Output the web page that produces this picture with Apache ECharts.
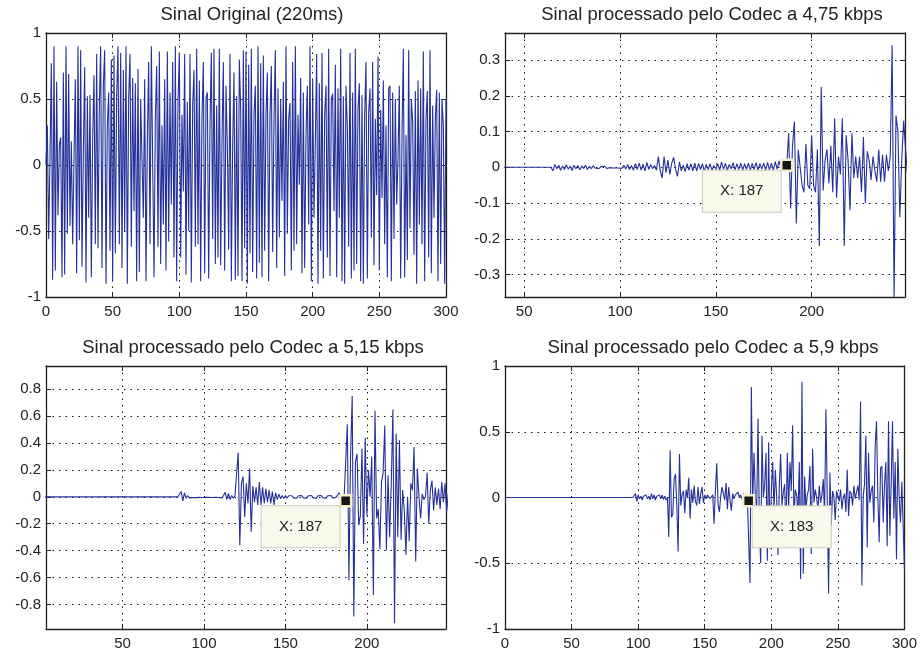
<!DOCTYPE html>
<html>
<head>
<meta charset="utf-8">
<script src="https://cdn.jsdelivr.net/npm/echarts@6/dist/echarts.min.js"></script>
<style>
  html, body { margin: 0; background: #fff; }
  #main { width: 920px; height: 653px; }
</style>
</head>
<body>
<div id="main"></div>
<script>
// titulos dos quatro graficos
const titulos = [
  'Sinal Original (220ms)',
  'Sinal processado pelo Codec a 4,75 kbps',
  'Sinal processado pelo Codec a 5,15 kbps',
  'Sinal processado pelo Codec a 5,9 kbps'
];

// sinal original, amostras 0..300
const sinalOriginal = [
  0.00, 0.30, -0.56, 0.05, 0.77, -0.87, 0.90, -0.80, 0.63, -0.38, 0.15, 0.21, -0.85, 0.70, -0.83, 0.90, -0.52, 0.69, -0.46, 0.18,
  -0.60, 0.05, 0.65, -0.82, 0.90, -0.57, 0.87, -0.77, 0.10, 0.74, -0.89, 0.52, -0.40, 0.53, -0.85, 0.20, 0.68, -0.60, 0.84, -0.63,
  0.45, 0.90, -0.78, 0.60, 0.87, -0.90, 0.30, 0.55, -0.65, 0.80, -0.88, 0.83, -0.67, 0.52, 0.90, -0.60, 0.85, -0.78, 0.72, -0.50,
  0.90, -0.90, 0.50, 0.84, -0.62, 0.66, -0.35, 0.62, -0.88, 0.73, -0.81, 0.50, 0.50, -0.40, 0.65, -0.88, 0.18, 0.78, -0.60, 0.90,
  0.90, -0.85, 0.35, 0.75, -0.62, 0.86, -0.75, 0.30, -0.45, 0.65, -0.80, 0.86, -0.58, 0.55, -0.30, 0.78, -0.70, 0.90, -0.88, 0.47,
  0.85, -0.70, 0.38, -0.20, 0.84, -0.83, 0.48, -0.50, 0.84, -0.89, 0.45, 0.72, -0.62, 0.88, -0.60, 0.64, -0.88, 0.35, 0.78, -0.82,
  0.51, 0.55, -0.86, 0.30, 0.85, -0.56, 0.88, -0.75, 0.45, -0.70, 0.88, -0.76, 0.18, 0.78, -0.80, 0.60, 0.15, -0.64, 0.84, -0.88,
  0.15, 0.70, -0.87, 0.52, -0.84, 0.80, 0.43, -0.88, 0.87, -0.63, 0.86, -0.90, 0.76, -0.67, 0.88, -0.81, 0.38, 0.60, -0.86, 0.90,
  -0.74, 0.77, -0.85, 0.83, -0.65, 0.38, 0.70, -0.88, 0.38, 0.75, -0.66, 0.35, 0.87, -0.78, 0.58, -0.55, 0.50, -0.27, 0.63, -0.84,
  0.90, -0.52, 0.35, 0.47, -0.80, 0.78, -0.65, 0.90, -0.60, 0.38, -0.15, 0.66, -0.82, 0.55, -0.78, 0.23, 0.60, -0.45, 0.90, -0.88,
  0.65, -0.40, 0.18, 0.84, -0.90, 0.62, -0.65, 0.85, -0.86, 0.38, 0.60, -0.70, 0.88, -0.84, 0.50, 0.54, -0.35, 0.76, -0.85, 0.58,
  -0.40, 0.88, -0.88, 0.52, -0.90, 0.60, 0.30, -0.62, 0.85, -0.86, 0.55, -0.80, 0.88, -0.75, 0.43, 0.62, -0.88, 0.53, -0.90, 0.38,
  0.78, -0.86, 0.40, 0.58, -0.55, 0.78, -0.76, 0.35, -0.23, 0.82, -0.80, 0.42, -0.25, 0.64, -0.60, 0.30, -0.85, 0.58, 0.60, -0.88,
  0.55, -0.56, 0.50, -0.30, 0.05, 0.60, -0.86, 0.22, 0.88, -0.85, 0.23, -0.72, 0.87, -0.48, 0.50, 0.33, -0.68, 0.56, -0.90, 0.64,
  -0.45, 0.58, -0.60, 0.86, -0.88, 0.35, 0.56, -0.70, 0.87, -0.82, 0.45, -0.40, 0.35, 0.57, -0.88, 0.55, -0.75, 0.50, 0.30, -0.90,
  0.50
];

// codec 4,75 kbps, amostras 0..250
const sinal475 = [
  0,0,0,0,0,0,0,0,0,0, 0,0,0,0,0,0,0,0,0,0,
  0,0,0,0,0,0,0,0,0,0, 0,0,0,0,0,0,0,0,0,0,
  0,0,0,0,0,0,0,0,0,0, 0,0,0,0,0,0,0,0,0,0,
  0,0,0,0,0,
  -0.01, 0.008, -0.004, 0.006, -0.008, 0.004, -0.006, 0.007, -0.005, 0.003,
  -0.009, 0.006, -0.004, 0.005, -0.007, 0.004, -0.003, 0.006, -0.006, 0.003,
  -0.004, 0.004, -0.002, 0.003, -0.004, 0.002, -0.002, 0.003, -0.003, 0.002,
  -0.001, 0.002, -0.002, 0.001, -0.002, 0.003, -0.003, 0.006, -0.005, 0.008,
  -0.006, 0.005, -0.008, 0.01, -0.006, 0.012, -0.008, 0.009, -0.01, 0.014,
  -0.006, 0.008, -0.004, 0.005, -0.008, 0.03, -0.01, -0.03, 0.03, -0.015,
  0.02, -0.02, 0.012, 0.028, -0.005, -0.025, 0.015, -0.01, 0.006, -0.012,
  0.01, -0.008, 0.01, -0.01, 0.012, -0.01, 0.011, -0.006, 0.01, -0.012,
  0.008, -0.006, 0.01, -0.008, 0.005, -0.005, 0.01, -0.008, 0.015, -0.006,
  0.012, -0.01, 0.008, -0.004, 0.013, -0.008, 0.01, -0.006, 0.012, -0.008,
  0.01, -0.006, 0.012, -0.007, 0.011, -0.006, 0.013, -0.008, 0.01, -0.005,
  0.012, -0.008, 0.014, -0.007, 0.012, -0.008, 0.016, -0.005, 0.018, -0.004,
  0.012, -0.002, 0.006, 0.095, -0.115, 0.06, 0.128, -0.157, 0.05, 0.055,
  -0.05, -0.07, 0.065, -0.05, -0.06, 0.09, -0.05, -0.07, 0.05, -0.22,
  0.225, -0.065, 0.02, 0.05, -0.045, 0.06, -0.07, 0.137, -0.085, 0.03,
  -0.02, 0.137, -0.22, 0.09, 0.02, -0.12, 0.095, -0.03, 0.03, -0.03,
  0.03, -0.07, 0.085, -0.1, 0.045, 0.02, -0.035, 0.03, -0.01, -0.04,
  0.05, -0.04, 0.035, -0.04, 0.035, -0.01, 0.03, 0.342, -0.37, 0.145,
  0.1, -0.14, 0.02, 0.13, 0.05, -0.02
];

// codec 5,15 kbps, amostras 0..250
const sinal515 = [
  0,0,0,0,0,0,0,0,0,0, 0,0,0,0,0,0,0,0,0,0,
  0,0,0,0,0,0,0,0,0,0, 0,0,0,0,0,0,0,0,0,0,
  0,0,0,0,0,0,0,0,0,0, 0,0,0,0,0,0,0,0,0,0,
  0,0,0,0,0,0,0,0,0,0, 0,0,0,0,0,0,0,0,0,0,
  0,0,0,0,0,
  0.005, 0.04, -0.03, 0.03, -0.01, 0.01, -0.008, 0.006, -0.006, 0.004,
  -0.006, 0.006, -0.004, 0.004, -0.005, 0.003, -0.004, 0.005, -0.003, 0.004,
  -0.005, 0.003, -0.004, 0.004, -0.005, 0.006, -0.008, 0.01, 0.035, -0.02,
  0.025, -0.02, 0.01, -0.01, 0.005, 0.0, 0.33, -0.36, 0.10, 0.15,
  -0.15, 0.10, -0.05, 0.21, -0.26, 0.08, -0.04, 0.07, -0.06, 0.11,
  -0.06, 0.07, -0.05, 0.06, -0.04, 0.05, -0.05, 0.04, -0.06, 0.03,
  -0.02, 0.02, -0.015, 0.01, -0.012, 0.01, -0.01, 0.008, -0.006, 0.008,
  -0.008, 0.006, -0.01, 0.008, -0.006, 0.01, -0.008, 0.006, -0.01, 0.008,
  -0.006, 0.01, -0.008, 0.006, -0.01, 0.008, -0.006, 0.01, -0.008, 0.006,
  -0.01, 0.008, -0.006, 0.01, -0.008, 0.006, -0.004, 0.01, 0.03, 0.0,
  -0.01, -0.02, -0.03, 0.54, -0.62, 0.30, 0.75, -0.89, 0.26, 0.32,
  -0.21, -0.14, 0.36, -0.35, 0.44, -0.14, 0.20, 0.00, 0.30, -0.73,
  0.64, -0.16, -0.09, -0.39, 0.11, 0.18, 0.53, -0.40, 0.16, -0.30,
  0.10, 0.65, -0.94, 0.47, -0.30, 0.42, -0.32, 0.05, -0.10, -0.43,
  0.00, -0.33, 0.10, 0.05, 0.37, -0.48, 0.21, 0.00, -0.16, 0.02,
  -0.02, 0.00, 0.18, -0.20, 0.05, 0.12, -0.10, 0.07, -0.06, 0.06,
  -0.09, 0.11, -0.04, 0.10, -0.11, 0.02
];

// codec 5,9 kbps, amostras 0..300
const sinal59 = [
  0,0,0,0,0,0,0,0,0,0, 0,0,0,0,0,0,0,0,0,0,
  0,0,0,0,0,0,0,0,0,0, 0,0,0,0,0,0,0,0,0,0,
  0,0,0,0,0,0,0,0,0,0, 0,0,0,0,0,0,0,0,0,0,
  0,0,0,0,0,0,0,0,0,0, 0,0,0,0,0,0,0,0,0,0,
  0,0,0,0,0,0,0,0,0,0, 0,0,0,0,0,0,0,0,
  0.03, -0.03,
  0.02, -0.01, 0.01, -0.02, 0.01, 0.00, 0.02, -0.01, 0.01, -0.02,
  0.03, -0.01, 0.02, -0.02, 0.01, 0.00, 0.02, -0.01, 0.02, -0.015,
  0.01, -0.02, 0.00, -0.30, 0.36, -0.15, -0.13, 0.14, 0.18, -0.05,
  -0.41, 0.33, -0.06, 0.02, 0.05, -0.12, 0.06, 0.00, 0.15, -0.16,
  0.06, -0.04, 0.09, -0.03, -0.06, 0.08, -0.05, 0.03, 0.08, -0.04,
  0.02, -0.01, 0.02, 0.01, -0.01, 0.00, 0.02, -0.20, 0.05, 0.26,
  -0.05, -0.11, 0.01, 0.08, 0.03, -0.02, 0.11, -0.09, 0.08, -0.02,
  -0.10, 0.03, -0.01, 0.02, 0.01, 0.04, 0.00, 0.02, -0.01, 0.03,
  -0.02, 0.01, -0.01, -0.025, -0.65, 0.84, -0.04, 0.34, 0.00, -0.10,
  0.60, -0.20, -0.50, 0.47, 0.00, 0.10, 0.34, -0.48, 0.42, -0.39,
  0.05, 0.27, -0.10, 0.21, 0.01, -0.44, 0.10, 0.33, -0.06, 0.04,
  0.10, -0.29, 0.34, -0.09, 0.27, 0.05, 0.55, -0.15, 0.06, 0.02,
  -0.14, 0.27, -0.62, 0.88, -0.58, 0.16, -0.09, 0.02, 0.06, 0.24,
  -0.43, 0.37, -0.04, 0.06, 0.00, -0.09, 0.09, -0.04, 0.02, 0.14,
  -0.14, 0.67, 0.00, -0.73, 0.19, -0.21, 0.05, 0.01, -0.17, 0.05,
  0.04, -0.03, 0.06, -0.09, 0.00, 0.03, -0.11, 0.21, -0.14, 0.05,
  0.03, -0.06, 0.09, -0.01, 0.04, 0.09, -0.02, 0.73, -0.67, 0.01,
  0.10, 0.47, -0.38, 0.34, -0.04, 0.05, 0.09, -0.19, 0.39, 0.58,
  0.00, -0.34, 0.22, 0.24, -0.19, 0.10, 0.27, -0.37, 0.58, -0.29,
  0.10, 0.58, -0.16, 0.27, -0.47, 0.37, 0.00, -0.19, 0.12, 0.13,
  -0.55
];

// eixos
const xTicks1 = [0, 50, 100, 150, 200, 250, 300];
const yTicks1 = [-1, -0.5, 0, 0.5, 1];
const xTicks2 = [50, 100, 150, 200];
const yTicks2 = [-0.3, -0.2, -0.1, 0, 0.1, 0.2, 0.3];
const xTicks3 = [50, 100, 150, 200];
const yTicks3 = [-0.8, -0.6, -0.4, -0.2, 0, 0.2, 0.4, 0.6, 0.8];

// data tips (X: ...)
const tipX = [null, 187, 187, 183];

const fonte = "'Liberation Sans', Arial, Helvetica, sans-serif";
const corEixo = '#222';
const corLinha = '#24319a';

const paineis = [
  { dados: sinalOriginal, x: [0, 300], y: [-1, 1], xt: xTicks1, yt: yTicks1,
    grid: { left: 46, top: 33, width: 400, height: 264 }, tit: [252, 5] },
  { dados: sinal475, x: [40, 248.7], y: [-0.363, 0.376], xt: xTicks2, yt: yTicks2,
    grid: { left: 505, top: 33, width: 400, height: 264 }, tit: [712, 5], dx: -45 },
  { dados: sinal515, x: [3, 248.6], y: [-0.983, 0.973], xt: xTicks3, yt: yTicks3,
    grid: { left: 46, top: 366, width: 400, height: 263 }, tit: [253, 338], dx: -45 },
  { dados: sinal59, x: [0, 300], y: [-1, 1], xt: xTicks1, yt: yTicks1,
    grid: { left: 505, top: 366, width: 400, height: 263 }, tit: [713, 338], dx: 43 }
];

function rotulo(v) {
  return String(+(+v).toFixed(2));
}

function eixo(tipo, idx, lim, ticks, pos, principal) {
  return {
    type: 'value',
    gridIndex: idx,
    position: pos,
    min: lim[0],
    max: lim[1],
    axisLine: { show: true, onZero: false, lineStyle: { color: corEixo, width: 1.3 } },
    axisTick: { show: true, inside: true, length: 5, customValues: ticks,
      lineStyle: { color: corEixo, width: 1 } },
    axisLabel: {
      show: principal, customValues: ticks, formatter: rotulo,
      fontFamily: fonte, fontSize: 15, color: corEixo,
      margin: tipo === 'x' ? 7 : 5,
      showMinLabel: true, showMaxLabel: true
    },
    splitLine: { show: principal, lineStyle: { color: '#111', width: 1, type: [1.5, 5] } }
  };
}

const xAxis = [], yAxis = [], grid = [], series = [], title = [];

paineis.forEach((p, i) => {
  grid.push(Object.assign({ containLabel: false }, p.grid));
  xAxis.push(eixo('x', i, p.x, p.xt, 'bottom', true));
  xAxis.push(eixo('x', i, p.x, p.xt, 'top', false));
  yAxis.push(eixo('y', i, p.y, p.yt, 'left', true));
  yAxis.push(eixo('y', i, p.y, p.yt, 'right', false));
  title.push({
    text: titulos[i], left: p.tit[0], top: p.tit[1], textAlign: 'center', padding: 0,
    textStyle: { fontFamily: fonte, fontSize: 18.5, fontWeight: 'normal', color: corEixo }
  });
  series.push({
    type: 'line',
    xAxisIndex: 2 * i,
    yAxisIndex: 2 * i,
    data: p.dados.map((v, k) => [k, v]),
    showSymbol: false,
    symbol: 'none',
    clip: true,
    silent: true,
    lineStyle: { color: corLinha, width: 1.1 },
    z: 2
  });
  if (tipX[i] != null) {
    const t = tipX[i];
    series.push({
      type: 'scatter',
      xAxisIndex: 2 * i,
      yAxisIndex: 2 * i,
      data: [[t, p.dados[t]]],
      symbol: 'rect',
      symbolSize: 11,
      silent: true,
      z: 10,
      itemStyle: { color: '#161616', borderColor: '#f4efcc', borderWidth: 2.5, opacity: 1 },
      label: {
        show: true,
        position: 'inside',
        offset: [p.dx, 26],
        formatter: 'X: ' + t,
        width: 78,
        height: 41,
        lineHeight: 41,
        align: 'center',
        verticalAlign: 'middle',
        backgroundColor: '#f8f8eb',
        borderColor: '#cacabc',
        borderWidth: 1,
        opacity: 1,
        fontFamily: fonte,
        fontSize: 15,
        color: '#222'
      }
    });
  }
});

const chart = echarts.init(document.getElementById('main'));
chart.setOption({
  backgroundColor: '#fff',
  animation: false,
  title: title,
  grid: grid,
  xAxis: xAxis,
  yAxis: yAxis,
  series: series
});
</script>
</body>
</html>
